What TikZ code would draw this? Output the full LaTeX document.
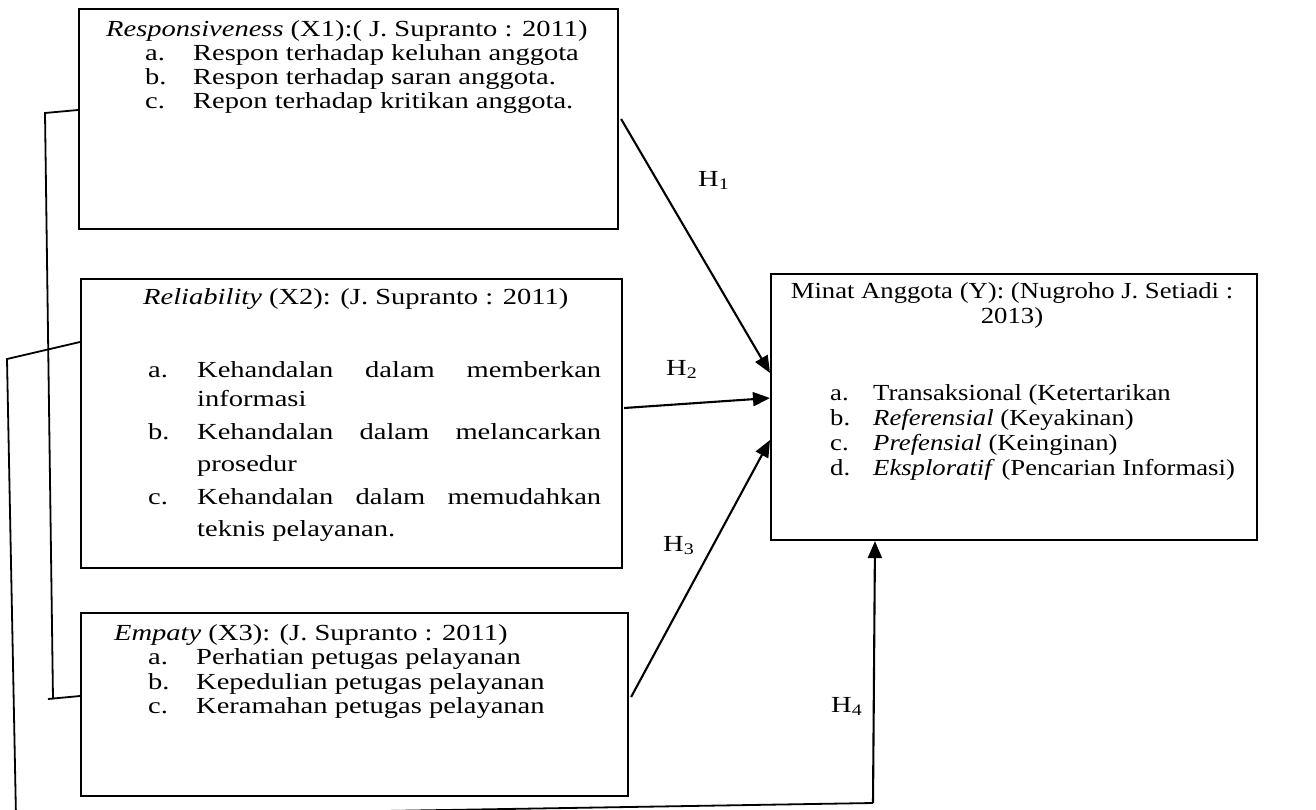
\documentclass[tikz,border=0pt]{standalone}
\usepackage{fontspec}
\setmainfont{Liberation Serif}[FakeStretch=1.24]
\newfontfamily\yfont{Liberation Serif}[FakeStretch=1.16]
\usetikzlibrary{arrows.meta}
\begin{document}
\begin{tikzpicture}[x=1pt,y=-1pt,
  box/.style={draw, line width=2.1pt, inner sep=0pt, anchor=north west},
  txt/.style={anchor=base west, inner sep=0pt, font=\fontsize{23}{24}\selectfont},
  wtxt/.style={anchor=base west, inner sep=0pt, font=\yfont\fontsize{23}{24}\selectfont},
  wctxt/.style={anchor=base, inner sep=0pt, font=\yfont\fontsize{23}{24}\selectfont},
  arr/.style={-{Triangle[length=17pt,width=14pt]}, line width=2.1pt},
  link/.style={line width=1.8pt}]
\useasboundingbox (0,0) rectangle (1316,809);
% boxes
\node[box, minimum width=539pt, minimum height=220pt] (b1) at (78,8) {};
\node[box, minimum width=541pt, minimum height=289pt] (b2) at (80,278) {};
\node[box, minimum width=547pt, minimum height=183pt] (b3) at (80,612) {};
\node[box, minimum width=486pt, minimum height=266pt] (by) at (770,273) {};
% box 1 text
\node[txt] (t1) at (106,36) {\textit{Responsiveness} (X1):( J. Supranto : 2011)};
\node[txt] (t1al) at (145,60) {a.};
\node[txt] (t1a) at (193,60) {Respon terhadap keluhan anggota};
\node[txt] (t1bl) at (145,84) {b.};
\node[txt] (t1b) at (193,84) {Respon terhadap saran anggota.};
\node[txt] (t1cl) at (145,108) {c.};
\node[txt] (t1c) at (193,108) {Repon terhadap kritikan anggota.};
% box 2 text
\node[txt] (t2) at (143,304) {\textit{Reliability} (X2): (J. Supranto : 2011)};
\node[txt] (t2al) at (148,377) {a.};
\node[txt] (t2a) at (197,377) {\makebox[404pt][s]{Kehandalan dalam memberkan}};
\node[txt] (t2a2) at (197,406) {informasi};
\node[txt] (t2bl) at (148,439) {b.};
\node[txt] (t2b) at (197,439) {\makebox[404pt][s]{Kehandalan dalam melancarkan}};
\node[txt] (t2b2) at (197,471) {prosedur};
\node[txt] (t2cl) at (148,504) {c.};
\node[txt] (t2c) at (197,504) {\makebox[404pt][s]{Kehandalan dalam memudahkan}};
\node[txt] (t2c2) at (197,536) {teknis pelayanan.};
% box 3 text
\node[txt] (t3) at (114,640) {\textit{Empaty} (X3): (J. Supranto : 2011)};
\node[txt] (t3al) at (148,664) {a.};
\node[txt] (t3a) at (196,664) {Perhatian petugas pelayanan};
\node[txt] (t3bl) at (148,689) {b.};
\node[txt] (t3b) at (196,689) {Kepedulian petugas pelayanan};
\node[txt] (t3cl) at (148,713) {c.};
\node[txt] (t3c) at (196,713) {Keramahan petugas pelayanan};
% box Y text
\node[wctxt] (ty) at (1012,298) {Minat Anggota (Y): (Nugroho J. Setiadi :};
\node[wctxt] (ty2) at (1012,323) {2013)};
\node[wtxt] (tyal) at (830,400) {a.};
\node[wtxt] (tya) at (873,400) {Transaksional (Ketertarikan};
\node[wtxt] (tybl) at (830,425) {b.};
\node[wtxt] (tyb) at (873,425) {\textit{Referensial} (Keyakinan)};
\node[wtxt] (tycl) at (830,450) {c.};
\node[wtxt] (tyc) at (873,450) {\textit{Prefensial} (Keinginan)};
\node[wtxt] (tydl) at (830,475) {d.};
\node[wtxt] (tyd) at (873,475) {\textit{Eksploratif} (Pencarian Informasi)};
% hypothesis labels
\node[txt] (h1) at (698,186) {H\textsubscript{1}};
\node[txt] (h2) at (666,375) {H\textsubscript{2}};
\node[txt] (h3) at (663,551) {H\textsubscript{3}};
\node[txt] (h4) at (831,712) {H\textsubscript{4}};
% arrows
\draw[arr] ([shift={(2pt,-111pt)}]b1.north east) -- ([yshift=-100pt]by.north west);
\draw[arr] ([shift={(1pt,-130pt)}]b2.north east) -- ([yshift=-125pt]by.north west);
\draw[arr] ([shift={(2pt,-85pt)}]b3.north east) -- ([yshift=-167pt]by.north west);
\coordinate (c4) at (873,803);
\coordinate (cl) at (16,817);
\draw[arr] (c4) -- ([xshift=105pt]by.south west);
% left links
\coordinate (p1) at (45,113);
\coordinate (p2) at (53,699);
\coordinate (p3) at (48,699);
\draw[link] ([yshift=-102pt]b1.north west) -- (p1) -- (p2);
\draw[link] (p3) -- ([yshift=-84pt]b3.north west);
\coordinate (q1) at (7,359);
\draw[link] ([yshift=-64pt]b2.north west) -- (q1) -- (cl) -- (c4);
\end{tikzpicture}
\end{document}
